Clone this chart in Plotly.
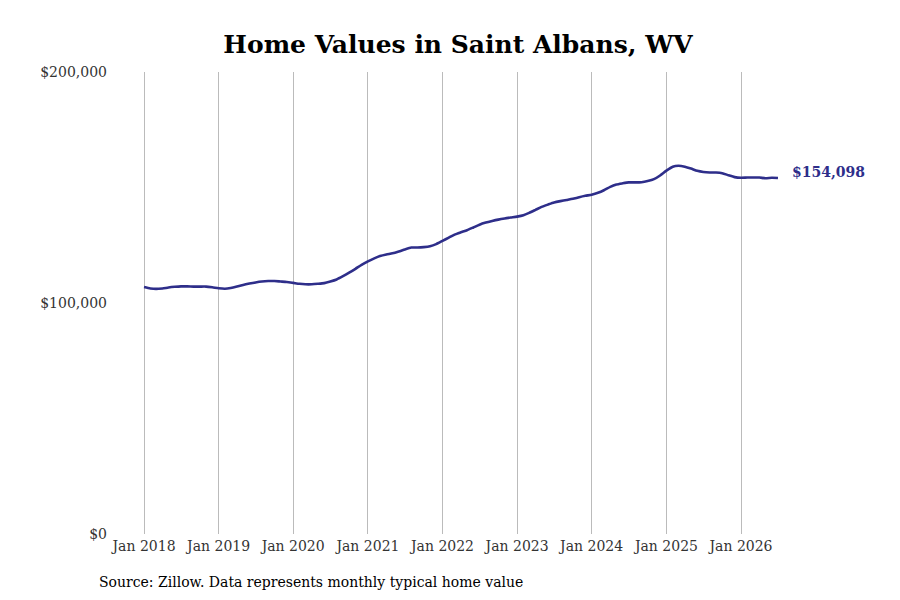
import plotly.graph_objects as go
import pandas as pd

dates = pd.date_range("2018-01-01", "2026-07-01", freq="MS")

values = [
    106900, 106300, 106100, 106300, 106700, 107000, 107200, 107200, 107100, 107100, 107100, 106800,
    106400, 106200, 106500, 107100, 107800, 108400, 108900, 109300, 109500, 109500, 109300, 109100,
    108700, 108300, 108100, 108100, 108300, 108600, 109300, 110200, 111600, 113100, 114800, 116500,
    118000, 119300, 120300, 121000, 121500, 122300, 123200, 124000, 124000, 124200, 124600, 125500,
    126900, 128300, 129600, 130600, 131500, 132700, 133900, 134800, 135500, 136100, 136600, 137000,
    137400, 138000, 139000, 140300, 141600, 142600, 143500, 144100, 144600, 145100, 145800, 146400,
    146900, 147700, 148800, 150300, 151300, 151800, 152200, 152200, 152300, 152800, 153600, 155200,
    157300, 159000, 159400, 159000, 158200, 157200, 156700, 156500, 156500, 156200, 155300, 154500,
    154200, 154300, 154300, 154300, 154000, 154200, 154098,
]

year_ticks = ["2018-01-01", "2019-01-01", "2020-01-01", "2021-01-01", "2022-01-01",
              "2023-01-01", "2024-01-01", "2025-01-01", "2026-01-01"]
year_labels = ["Jan 2018", "Jan 2019", "Jan 2020", "Jan 2021", "Jan 2022",
               "Jan 2023", "Jan 2024", "Jan 2025", "Jan 2026"]

y_ticks = [0, 100000, 200000]
y_labels = ["$0", "$100,000", "$200,000"]

title = "Home Values in Saint Albans, WV"
source = "Source: Zillow. Data represents monthly typical home value"
line_color = "#2e2e8a"

ML, MR, MT, MB = 107, 110, 64, 74
W, H = 900, 600
plot_w = W - ML - MR
plot_h = H - MT - MB

fig = go.Figure()
fig.add_trace(go.Scatter(
    x=dates, y=values, mode="lines",
    line=dict(color=line_color, width=2.6, shape="spline", smoothing=0.6),
    hoverinfo="skip", showlegend=False,
))

fig.add_annotation(
    x=dates[-1], y=values[-1], text=f"<b>${values[-1]:,}</b>",
    xanchor="left", yanchor="middle", showarrow=False, xshift=12, yshift=6,
    font=dict(family="DejaVu Serif", size=14, color=line_color),
)

fig.add_annotation(
    xref="paper", yref="paper",
    x=(89 - ML) / plot_w, y=(H - MB - 574) / plot_h,
    text=source, showarrow=False, xanchor="left", yanchor="middle",
    font=dict(family="DejaVu Serif", size=14, color="#000000"),
)

fig.update_layout(
    width=W, height=H,
    margin=dict(l=ML, r=MR, t=MT, b=MB),
    paper_bgcolor="white", plot_bgcolor="white",
    title=dict(text=f"<b>{title}</b>", x=0.5, xanchor="center", y=1 - 36 / H, yanchor="middle",
               font=dict(family="DejaVu Serif", size=25, color="#000000")),
    font=dict(family="DejaVu Serif", size=14, color="#333333"),
    xaxis=dict(
        type="date",
        range=["2017-08-12", "2026-10-07"],
        tickvals=year_ticks, ticktext=year_labels,
        showgrid=True, gridcolor="#bbbbbb", gridwidth=1,
        zeroline=False, showline=False, ticks="",
        ticklabelstandoff=2,
        tickfont=dict(family="DejaVu Serif", size=14, color="#333333"),
    ),
    yaxis=dict(
        range=[0, 200000],
        tickvals=y_ticks, ticktext=y_labels,
        showgrid=False, zeroline=False, showline=False, ticks="",
        ticklabelstandoff=7,
        tickfont=dict(family="DejaVu Serif", size=14, color="#333333"),
    ),
)

fig.write_html("out.html")
